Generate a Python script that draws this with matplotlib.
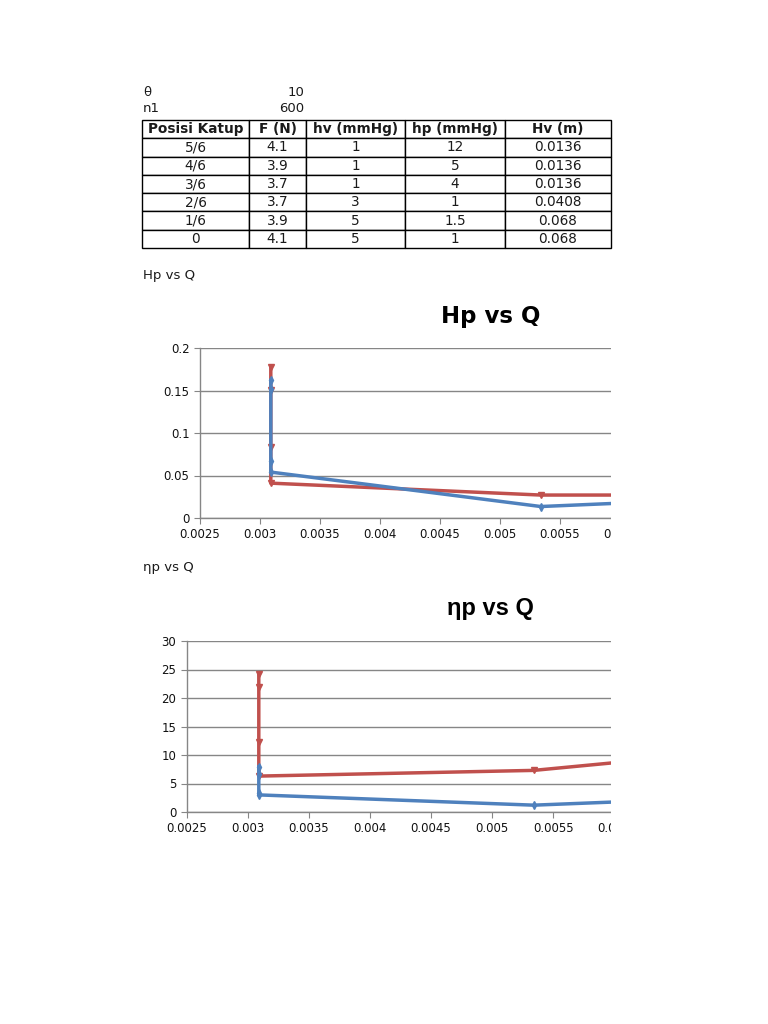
import matplotlib
matplotlib.use("Agg")
import matplotlib.pyplot as plt
from matplotlib.ticker import FuncFormatter, MultipleLocator
from matplotlib.patches import Rectangle

# ---------------- data ----------------
theta_val = "10"
n1_val = "600"
col_labels = ["Posisi Katup", "F (N)", "hv (mmHg)", "hp (mmHg)", "Hv (m)"]
posisi = ["5/6", "4/6", "3/6", "2/6", "1/6", "0"]
force = ["4.1", "3.9", "3.7", "3.7", "3.9", "4.1"]
hv_mmhg = ["1", "1", "1", "3", "5", "5"]
hp_mmhg = ["12", "5", "4", "1", "1.5", "1"]
hv_m = ["0.0136", "0.0136", "0.0136", "0.0408", "0.068", "0.068"]

q_vals = [0.00309, 0.00309, 0.00309, 0.00309, 0.00534, 0.0070]
hp_red = [0.178, 0.151, 0.083, 0.041, 0.027, 0.027]
hp_blue = [0.162, 0.152, 0.067, 0.054, 0.0135, 0.0235]
eta_red = [24.2, 22.0, 12.2, 6.3, 7.3, 10.7]
eta_blue = [7.95, 6.6, 3.4, 3.0, 1.2, 2.6]

RED = "#C0504D"
BLUE = "#4F81BD"
W, H = 768, 1024

fig = plt.figure(figsize=(7.68, 10.24), dpi=100)
fig.patch.set_facecolor("white")


def fx(px):
    return px / W


def fy(py):
    return 1 - py / H


TXT = "#1a1a1a"
# header texts
fig.text(fx(143), fy(92), "θ", fontsize=9.5, va="center", ha="left", color=TXT)
fig.text(fx(304), fy(92), theta_val, fontsize=9.5, va="center", ha="right", color=TXT)
fig.text(fx(143), fy(109), "n1", fontsize=9.5, va="center", ha="left", color=TXT)
fig.text(fx(304), fy(109), n1_val, fontsize=9.5, va="center", ha="right", color=TXT)

# table
tab_ax = fig.add_axes([fx(142), fy(248), fx(611) - fx(142), fy(120) - fy(248)])
tab_ax.axis("off")
cell_text = [list(r) for r in zip(posisi, force, hv_mmhg, hp_mmhg, hv_m)]
widths = [107, 57, 99, 100, 106]
tot = sum(widths)
tbl = tab_ax.table(cellText=cell_text, colLabels=col_labels,
                   colWidths=[w / tot for w in widths],
                   cellLoc="center", bbox=[0, 0, 1, 1])
tbl.auto_set_font_size(False)
for (r, c), cell in tbl.get_celld().items():
    cell.set_edgecolor("black")
    cell.set_linewidth(1.0)
    cell.get_text().set_fontsize(9.8)
    cell.get_text().set_color(TXT)
    if r == 0:
        cell.get_text().set_fontweight("bold")

fig.text(fx(143), fy(276), "Hp vs Q", fontsize=9.5, va="center", ha="left", color=TXT)
fig.text(fx(143), fy(567), "ηp vs Q", fontsize=9.5, va="center", ha="left", color=TXT)


def style_axes(ax):
    ax.set_facecolor("white")
    for s in ["top", "right"]:
        ax.spines[s].set_visible(False)
    for s in ["left", "bottom"]:
        ax.spines[s].set_color("#868686")
        ax.spines[s].set_linewidth(1.0)
    ax.grid(axis="y", color="#868686", linewidth=1.0)
    ax.set_axisbelow(True)
    ax.tick_params(axis="both", direction="out", length=4, color="#868686",
                   labelsize=8.5, labelcolor="#111111")
    ax.xaxis.set_major_locator(MultipleLocator(0.0005))
    ax.xaxis.set_major_formatter(FuncFormatter(lambda v, p: f"{v:g}"))
    ax.yaxis.set_major_formatter(FuncFormatter(lambda v, p: f"{v:g}"))


# chart 1
ax1 = fig.add_axes([fx(200), fy(518), fx(620) - fx(200), fy(348) - fy(518)])
ax1.plot(q_vals, hp_red, color=RED, lw=2.5, marker="v", ms=5, zorder=3)
ax1.plot(q_vals, hp_blue, color=BLUE, lw=2.5, marker="d", ms=4, zorder=4)
ax1.set_xlim(0.0025, 0.006)
ax1.set_ylim(0, 0.2)
ax1.yaxis.set_major_locator(MultipleLocator(0.05))
style_axes(ax1)
fig.text(fx(491), fy(316), "Hp vs Q", fontsize=16.5, fontweight="bold",
         ha="center", va="center")

# chart 2
ax2 = fig.add_axes([fx(186.7), fy(812), fx(614.4) - fx(186.7), fy(641) - fy(812)])
ax2.plot(q_vals, eta_red, color=RED, lw=2.5, marker="v", ms=5, zorder=3)
ax2.plot(q_vals, eta_blue, color=BLUE, lw=2.5, marker="d", ms=4, zorder=4)
ax2.set_xlim(0.0025, 0.006)
ax2.set_ylim(0, 30)
ax2.yaxis.set_major_locator(MultipleLocator(5))
style_axes(ax2)
fig.text(fx(490), fy(608), "ηp vs Q", fontsize=17, fontweight="bold",
         family=["Liberation Sans", "DejaVu Sans"], ha="center", va="center")

# page clipping at right edge of the chart area
fig.add_artist(Rectangle((fx(611), fy(860)), 1 - fx(611), fy(330) - fy(860),
                         transform=fig.transFigure, facecolor="white",
                         edgecolor="none", zorder=10))

fig.savefig("out.png", dpi=100, facecolor="white")
